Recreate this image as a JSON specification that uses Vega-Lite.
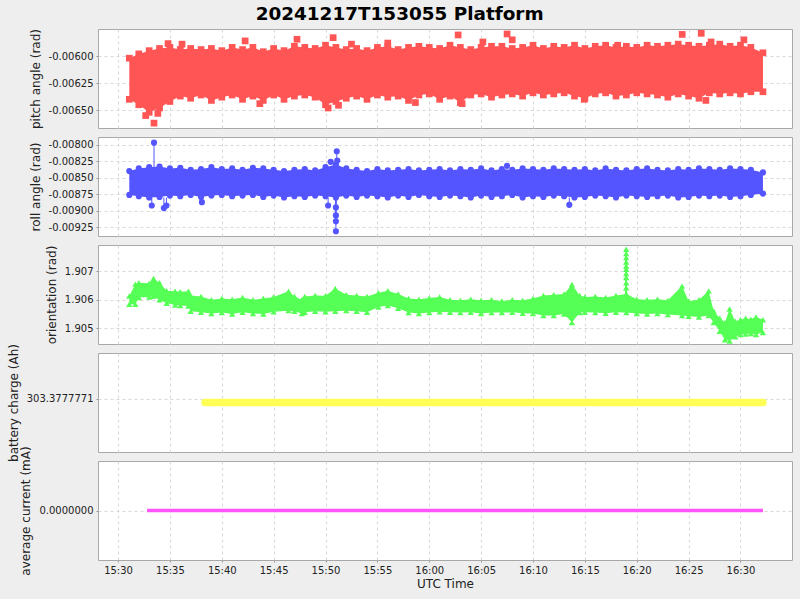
{
"$schema": "https://vega.github.io/schema/vega-lite/v6.json",
"background": "#eeeeee",
"padding": {"left": 6, "top": 4, "right": 8, "bottom": 9},
"bounds": "flush",
"spacing": 9,
"title": {"text": "20241217T153055 Platform", "fontSize": 18.4, "font": "DejaVu Sans", "fontWeight": "bold", "anchor": "middle", "color": "#000000", "offset": 5},
"config": {
  "font": "DejaVu Sans",
  "view": {"stroke": "#a8a8a8", "strokeWidth": 1, "fill": "white"},
  "axis": {"labelFont": "DejaVu Sans", "labelFontSize": 10, "labelColor": "#222222", "titleFont": "DejaVu Sans", "titleFontSize": 12, "titleFontWeight": "normal", "titleColor": "#222222", "gridColor": "#d8d8d8", "gridDash": [3, 3], "domain": false, "tickColor": "#999999", "tickSize": 2, "labelPadding": 3, "titlePadding": 6, "labelOverlap": false, "labelFlush": false}
},
"datasets": {
"pitch": [
{"t":"2024-12-17T15:31:05Z","hi":-0.00602,"lo":-0.0064},
{"t":"2024-12-17T15:32:00Z","hi":-0.00598,"lo":-0.00645},
{"t":"2024-12-17T15:33:00Z","hi":-0.00595,"lo":-0.00652},
{"t":"2024-12-17T15:34:00Z","hi":-0.00593,"lo":-0.00648},
{"t":"2024-12-17T15:35:00Z","hi":-0.00592,"lo":-0.00642},
{"t":"2024-12-17T15:36:00Z","hi":-0.00594,"lo":-0.00637},
{"t":"2024-12-17T15:37:00Z","hi":-0.00593,"lo":-0.00639},
{"t":"2024-12-17T15:38:00Z","hi":-0.00594,"lo":-0.00636},
{"t":"2024-12-17T15:39:00Z","hi":-0.00593,"lo":-0.00641},
{"t":"2024-12-17T15:40:00Z","hi":-0.00595,"lo":-0.00638},
{"t":"2024-12-17T15:41:00Z","hi":-0.00592,"lo":-0.00636},
{"t":"2024-12-17T15:42:00Z","hi":-0.00594,"lo":-0.0064},
{"t":"2024-12-17T15:43:00Z","hi":-0.00592,"lo":-0.00637},
{"t":"2024-12-17T15:44:00Z","hi":-0.00596,"lo":-0.00641},
{"t":"2024-12-17T15:45:00Z","hi":-0.00593,"lo":-0.00636},
{"t":"2024-12-17T15:46:00Z","hi":-0.00595,"lo":-0.0064},
{"t":"2024-12-17T15:47:00Z","hi":-0.00591,"lo":-0.00637},
{"t":"2024-12-17T15:48:00Z","hi":-0.00592,"lo":-0.00636},
{"t":"2024-12-17T15:49:00Z","hi":-0.00593,"lo":-0.00638},
{"t":"2024-12-17T15:50:00Z","hi":-0.0059,"lo":-0.00645},
{"t":"2024-12-17T15:51:00Z","hi":-0.00592,"lo":-0.00642},
{"t":"2024-12-17T15:52:00Z","hi":-0.00594,"lo":-0.00639},
{"t":"2024-12-17T15:53:00Z","hi":-0.00593,"lo":-0.00637},
{"t":"2024-12-17T15:54:00Z","hi":-0.00595,"lo":-0.0064},
{"t":"2024-12-17T15:55:00Z","hi":-0.00592,"lo":-0.00636},
{"t":"2024-12-17T15:56:00Z","hi":-0.00591,"lo":-0.00638},
{"t":"2024-12-17T15:57:00Z","hi":-0.00594,"lo":-0.00637},
{"t":"2024-12-17T15:58:00Z","hi":-0.00592,"lo":-0.00641},
{"t":"2024-12-17T15:59:00Z","hi":-0.00591,"lo":-0.00636},
{"t":"2024-12-17T16:00:00Z","hi":-0.00592,"lo":-0.00635},
{"t":"2024-12-17T16:01:00Z","hi":-0.00593,"lo":-0.0064},
{"t":"2024-12-17T16:02:00Z","hi":-0.0059,"lo":-0.00637},
{"t":"2024-12-17T16:03:00Z","hi":-0.00592,"lo":-0.00643},
{"t":"2024-12-17T16:04:00Z","hi":-0.00594,"lo":-0.00636},
{"t":"2024-12-17T16:05:00Z","hi":-0.00592,"lo":-0.00635},
{"t":"2024-12-17T16:06:00Z","hi":-0.00591,"lo":-0.00638},
{"t":"2024-12-17T16:07:00Z","hi":-0.00591,"lo":-0.00636},
{"t":"2024-12-17T16:08:00Z","hi":-0.00593,"lo":-0.00635},
{"t":"2024-12-17T16:09:00Z","hi":-0.00592,"lo":-0.00637},
{"t":"2024-12-17T16:10:00Z","hi":-0.0059,"lo":-0.00634},
{"t":"2024-12-17T16:11:00Z","hi":-0.00593,"lo":-0.00636},
{"t":"2024-12-17T16:12:00Z","hi":-0.00591,"lo":-0.00635},
{"t":"2024-12-17T16:13:00Z","hi":-0.00592,"lo":-0.00634},
{"t":"2024-12-17T16:14:00Z","hi":-0.0059,"lo":-0.00637},
{"t":"2024-12-17T16:15:00Z","hi":-0.00593,"lo":-0.00639},
{"t":"2024-12-17T16:16:00Z","hi":-0.00591,"lo":-0.00635},
{"t":"2024-12-17T16:17:00Z","hi":-0.0059,"lo":-0.00634},
{"t":"2024-12-17T16:18:00Z","hi":-0.00592,"lo":-0.00637},
{"t":"2024-12-17T16:19:00Z","hi":-0.00591,"lo":-0.00636},
{"t":"2024-12-17T16:20:00Z","hi":-0.00592,"lo":-0.00634},
{"t":"2024-12-17T16:21:00Z","hi":-0.0059,"lo":-0.00635},
{"t":"2024-12-17T16:22:00Z","hi":-0.00591,"lo":-0.00636},
{"t":"2024-12-17T16:23:00Z","hi":-0.0059,"lo":-0.00638},
{"t":"2024-12-17T16:24:00Z","hi":-0.00589,"lo":-0.00635},
{"t":"2024-12-17T16:25:00Z","hi":-0.0059,"lo":-0.00637},
{"t":"2024-12-17T16:26:00Z","hi":-0.00591,"lo":-0.00639},
{"t":"2024-12-17T16:27:00Z","hi":-0.0059,"lo":-0.00634},
{"t":"2024-12-17T16:28:00Z","hi":-0.00589,"lo":-0.00635},
{"t":"2024-12-17T16:29:00Z","hi":-0.00591,"lo":-0.00634},
{"t":"2024-12-17T16:30:00Z","hi":-0.0059,"lo":-0.00635},
{"t":"2024-12-17T16:31:00Z","hi":-0.00592,"lo":-0.00633},
{"t":"2024-12-17T16:32:10Z","hi":-0.00597,"lo":-0.00633}
],
"pitch_out": [
{"t":"2024-12-17T15:32:40Z","v":-0.00655},
{"t":"2024-12-17T15:33:28Z","v":-0.00662},
{"t":"2024-12-17T15:33:50Z","v":-0.00653},
{"t":"2024-12-17T15:34:49Z","v":-0.005885},
{"t":"2024-12-17T15:36:10Z","v":-0.00589},
{"t":"2024-12-17T15:42:15Z","v":-0.00586},
{"t":"2024-12-17T15:43:40Z","v":-0.00644},
{"t":"2024-12-17T15:47:15Z","v":-0.005845},
{"t":"2024-12-17T15:50:15Z","v":-0.00648},
{"t":"2024-12-17T15:50:44Z","v":-0.00583},
{"t":"2024-12-17T15:51:15Z","v":-0.006455},
{"t":"2024-12-17T15:52:30Z","v":-0.00589},
{"t":"2024-12-17T15:56:00Z","v":-0.00588},
{"t":"2024-12-17T15:58:40Z","v":-0.00643},
{"t":"2024-12-17T16:02:47Z","v":-0.005805},
{"t":"2024-12-17T16:03:10Z","v":-0.00644},
{"t":"2024-12-17T16:05:10Z","v":-0.00587},
{"t":"2024-12-17T16:07:30Z","v":-0.005796},
{"t":"2024-12-17T16:08:00Z","v":-0.00585},
{"t":"2024-12-17T16:14:56Z","v":-0.0064},
{"t":"2024-12-17T16:18:10Z","v":-0.0059},
{"t":"2024-12-17T16:24:23Z","v":-0.0058},
{"t":"2024-12-17T16:26:13Z","v":-0.00579},
{"t":"2024-12-17T16:26:40Z","v":-0.00641},
{"t":"2024-12-17T16:27:10Z","v":-0.00587},
{"t":"2024-12-17T16:30:20Z","v":-0.00585}
],
"roll": [
{"t":"2024-12-17T15:31:05Z","hi":-0.0084,"lo":-0.00876},
{"t":"2024-12-17T15:32:00Z","hi":-0.00836,"lo":-0.00878},
{"t":"2024-12-17T15:33:00Z","hi":-0.00834,"lo":-0.0088},
{"t":"2024-12-17T15:34:00Z","hi":-0.00833,"lo":-0.00879},
{"t":"2024-12-17T15:35:00Z","hi":-0.00836,"lo":-0.00877},
{"t":"2024-12-17T15:36:00Z","hi":-0.00835,"lo":-0.00878},
{"t":"2024-12-17T15:37:00Z","hi":-0.00838,"lo":-0.00876},
{"t":"2024-12-17T15:38:00Z","hi":-0.00837,"lo":-0.00879},
{"t":"2024-12-17T15:39:00Z","hi":-0.00834,"lo":-0.00877},
{"t":"2024-12-17T15:40:00Z","hi":-0.00837,"lo":-0.00876},
{"t":"2024-12-17T15:41:00Z","hi":-0.00836,"lo":-0.00878},
{"t":"2024-12-17T15:42:00Z","hi":-0.00838,"lo":-0.00877},
{"t":"2024-12-17T15:43:00Z","hi":-0.00835,"lo":-0.00876},
{"t":"2024-12-17T15:44:00Z","hi":-0.00836,"lo":-0.00879},
{"t":"2024-12-17T15:45:00Z","hi":-0.00838,"lo":-0.00877},
{"t":"2024-12-17T15:46:00Z","hi":-0.0084,"lo":-0.0088},
{"t":"2024-12-17T15:47:00Z","hi":-0.00838,"lo":-0.00878},
{"t":"2024-12-17T15:48:00Z","hi":-0.00837,"lo":-0.00879},
{"t":"2024-12-17T15:49:00Z","hi":-0.00839,"lo":-0.00877},
{"t":"2024-12-17T15:50:00Z","hi":-0.00834,"lo":-0.00878},
{"t":"2024-12-17T15:51:00Z","hi":-0.0083,"lo":-0.0088},
{"t":"2024-12-17T15:52:00Z","hi":-0.00836,"lo":-0.00877},
{"t":"2024-12-17T15:53:00Z","hi":-0.00838,"lo":-0.00879},
{"t":"2024-12-17T15:54:00Z","hi":-0.0084,"lo":-0.00877},
{"t":"2024-12-17T15:55:00Z","hi":-0.00837,"lo":-0.00878},
{"t":"2024-12-17T15:56:00Z","hi":-0.00839,"lo":-0.0088},
{"t":"2024-12-17T15:57:00Z","hi":-0.00838,"lo":-0.00877},
{"t":"2024-12-17T15:58:00Z","hi":-0.00837,"lo":-0.00879},
{"t":"2024-12-17T15:59:00Z","hi":-0.00839,"lo":-0.00876},
{"t":"2024-12-17T16:00:00Z","hi":-0.00838,"lo":-0.00878},
{"t":"2024-12-17T16:01:00Z","hi":-0.00837,"lo":-0.00879},
{"t":"2024-12-17T16:02:00Z","hi":-0.00839,"lo":-0.00877},
{"t":"2024-12-17T16:03:00Z","hi":-0.00837,"lo":-0.00878},
{"t":"2024-12-17T16:04:00Z","hi":-0.00838,"lo":-0.0088},
{"t":"2024-12-17T16:05:00Z","hi":-0.00836,"lo":-0.00877},
{"t":"2024-12-17T16:06:00Z","hi":-0.00839,"lo":-0.00879},
{"t":"2024-12-17T16:07:00Z","hi":-0.00837,"lo":-0.00878},
{"t":"2024-12-17T16:08:00Z","hi":-0.00838,"lo":-0.00876},
{"t":"2024-12-17T16:09:00Z","hi":-0.00836,"lo":-0.0088},
{"t":"2024-12-17T16:10:00Z","hi":-0.00837,"lo":-0.00878},
{"t":"2024-12-17T16:11:00Z","hi":-0.00838,"lo":-0.00879},
{"t":"2024-12-17T16:12:00Z","hi":-0.00836,"lo":-0.00877},
{"t":"2024-12-17T16:13:00Z","hi":-0.00837,"lo":-0.00878},
{"t":"2024-12-17T16:14:00Z","hi":-0.00838,"lo":-0.0088},
{"t":"2024-12-17T16:15:00Z","hi":-0.00837,"lo":-0.00879},
{"t":"2024-12-17T16:16:00Z","hi":-0.00839,"lo":-0.00877},
{"t":"2024-12-17T16:17:00Z","hi":-0.00836,"lo":-0.00878},
{"t":"2024-12-17T16:18:00Z","hi":-0.00838,"lo":-0.0088},
{"t":"2024-12-17T16:19:00Z","hi":-0.00839,"lo":-0.00877},
{"t":"2024-12-17T16:20:00Z","hi":-0.00837,"lo":-0.00878},
{"t":"2024-12-17T16:21:00Z","hi":-0.00836,"lo":-0.00879},
{"t":"2024-12-17T16:22:00Z","hi":-0.00838,"lo":-0.00878},
{"t":"2024-12-17T16:23:00Z","hi":-0.00839,"lo":-0.00877},
{"t":"2024-12-17T16:24:00Z","hi":-0.00837,"lo":-0.0088},
{"t":"2024-12-17T16:25:00Z","hi":-0.00838,"lo":-0.00879},
{"t":"2024-12-17T16:26:00Z","hi":-0.00836,"lo":-0.00877},
{"t":"2024-12-17T16:27:00Z","hi":-0.00837,"lo":-0.00878},
{"t":"2024-12-17T16:28:00Z","hi":-0.00838,"lo":-0.00877},
{"t":"2024-12-17T16:29:00Z","hi":-0.00836,"lo":-0.00879},
{"t":"2024-12-17T16:30:00Z","hi":-0.00837,"lo":-0.00878},
{"t":"2024-12-17T16:31:00Z","hi":-0.00838,"lo":-0.00876},
{"t":"2024-12-17T16:32:10Z","hi":-0.00842,"lo":-0.00874}
],
"roll_out": [
{"t":"2024-12-17T15:33:28Z","v":-0.00797,"b":-0.00834},
{"t":"2024-12-17T15:33:15Z","v":-0.00892,"b":-0.0088},
{"t":"2024-12-17T15:34:25Z","v":-0.00896,"b":-0.0088},
{"t":"2024-12-17T15:34:40Z","v":-0.00892,"b":-0.0088},
{"t":"2024-12-17T15:38:05Z","v":-0.00887,"b":-0.0088},
{"t":"2024-12-17T15:50:15Z","v":-0.00892,"b":-0.0088},
{"t":"2024-12-17T15:50:30Z","v":-0.00826,"b":-0.0083},
{"t":"2024-12-17T15:51:05Z","v":-0.0081,"b":-0.0083},
{"t":"2024-12-17T15:51:08Z","v":-0.00824,"b":-0.0083},
{"t":"2024-12-17T15:51:00Z","v":-0.00895,"b":-0.0088},
{"t":"2024-12-17T15:51:00Z","v":-0.00907,"b":-0.0088},
{"t":"2024-12-17T15:51:00Z","v":-0.00916,"b":-0.0088},
{"t":"2024-12-17T15:51:00Z","v":-0.00931,"b":-0.0088},
{"t":"2024-12-17T16:07:30Z","v":-0.00832,"b":-0.00836},
{"t":"2024-12-17T16:13:30Z","v":-0.00891,"b":-0.0088}
],
"orient": [
{"t":"2024-12-17T15:31:05Z","hi":1.90613,"lo":1.90584},
{"t":"2024-12-17T15:31:40Z","hi":1.90655,"lo":1.90584},
{"t":"2024-12-17T15:32:00Z","hi":1.9066,"lo":1.90608},
{"t":"2024-12-17T15:33:00Z","hi":1.90658,"lo":1.9061},
{"t":"2024-12-17T15:33:25Z","hi":1.90675,"lo":1.90612},
{"t":"2024-12-17T15:34:00Z","hi":1.9066,"lo":1.906},
{"t":"2024-12-17T15:34:41Z","hi":1.90632,"lo":1.90588},
{"t":"2024-12-17T15:35:30Z","hi":1.9063,"lo":1.90582},
{"t":"2024-12-17T15:36:00Z","hi":1.90628,"lo":1.9058},
{"t":"2024-12-17T15:36:47Z","hi":1.9063,"lo":1.90578},
{"t":"2024-12-17T15:37:00Z","hi":1.90615,"lo":1.9056},
{"t":"2024-12-17T15:38:00Z","hi":1.90612,"lo":1.90556},
{"t":"2024-12-17T15:39:00Z","hi":1.906,"lo":1.90552},
{"t":"2024-12-17T15:40:00Z","hi":1.90605,"lo":1.90555},
{"t":"2024-12-17T15:41:00Z","hi":1.90602,"lo":1.9055},
{"t":"2024-12-17T15:42:00Z","hi":1.90608,"lo":1.90556},
{"t":"2024-12-17T15:43:00Z","hi":1.906,"lo":1.90552},
{"t":"2024-12-17T15:44:00Z","hi":1.90605,"lo":1.9055},
{"t":"2024-12-17T15:45:00Z","hi":1.9061,"lo":1.90558},
{"t":"2024-12-17T15:46:26Z","hi":1.9063,"lo":1.90562},
{"t":"2024-12-17T15:47:00Z","hi":1.90612,"lo":1.9056},
{"t":"2024-12-17T15:47:43Z","hi":1.906,"lo":1.90552},
{"t":"2024-12-17T15:48:00Z","hi":1.90612,"lo":1.90556},
{"t":"2024-12-17T15:49:00Z","hi":1.90615,"lo":1.9056},
{"t":"2024-12-17T15:50:00Z","hi":1.90614,"lo":1.90558},
{"t":"2024-12-17T15:50:56Z","hi":1.9064,"lo":1.9056},
{"t":"2024-12-17T15:52:00Z","hi":1.90618,"lo":1.90562},
{"t":"2024-12-17T15:53:00Z","hi":1.90615,"lo":1.9056},
{"t":"2024-12-17T15:54:00Z","hi":1.90612,"lo":1.90556},
{"t":"2024-12-17T15:55:06Z","hi":1.90625,"lo":1.90575},
{"t":"2024-12-17T15:56:00Z","hi":1.90632,"lo":1.9058},
{"t":"2024-12-17T15:57:00Z","hi":1.9062,"lo":1.9057},
{"t":"2024-12-17T15:58:00Z","hi":1.90605,"lo":1.90555},
{"t":"2024-12-17T15:59:00Z","hi":1.90602,"lo":1.90552},
{"t":"2024-12-17T16:00:00Z","hi":1.90606,"lo":1.90555},
{"t":"2024-12-17T16:01:00Z","hi":1.9061,"lo":1.90558},
{"t":"2024-12-17T16:02:00Z","hi":1.906,"lo":1.90556},
{"t":"2024-12-17T16:03:00Z","hi":1.90598,"lo":1.90555},
{"t":"2024-12-17T16:04:00Z","hi":1.90602,"lo":1.90556},
{"t":"2024-12-17T16:05:00Z","hi":1.90598,"lo":1.90552},
{"t":"2024-12-17T16:06:00Z","hi":1.906,"lo":1.90555},
{"t":"2024-12-17T16:07:00Z","hi":1.90596,"lo":1.90555},
{"t":"2024-12-17T16:08:00Z","hi":1.906,"lo":1.90556},
{"t":"2024-12-17T16:09:00Z","hi":1.90598,"lo":1.90553},
{"t":"2024-12-17T16:10:00Z","hi":1.90605,"lo":1.90552},
{"t":"2024-12-17T16:11:00Z","hi":1.90615,"lo":1.90545},
{"t":"2024-12-17T16:12:00Z","hi":1.90618,"lo":1.90545},
{"t":"2024-12-17T16:13:00Z","hi":1.9062,"lo":1.9055},
{"t":"2024-12-17T16:13:45Z","hi":1.90654,"lo":1.9052},
{"t":"2024-12-17T16:14:30Z","hi":1.90615,"lo":1.90555},
{"t":"2024-12-17T16:15:00Z","hi":1.9061,"lo":1.90556},
{"t":"2024-12-17T16:16:00Z","hi":1.90612,"lo":1.90555},
{"t":"2024-12-17T16:17:00Z","hi":1.90608,"lo":1.90553},
{"t":"2024-12-17T16:18:00Z","hi":1.90615,"lo":1.90556},
{"t":"2024-12-17T16:19:00Z","hi":1.9062,"lo":1.90555},
{"t":"2024-12-17T16:20:00Z","hi":1.90602,"lo":1.90552},
{"t":"2024-12-17T16:21:00Z","hi":1.906,"lo":1.9055},
{"t":"2024-12-17T16:22:00Z","hi":1.90602,"lo":1.90552},
{"t":"2024-12-17T16:23:00Z","hi":1.90598,"lo":1.90548},
{"t":"2024-12-17T16:24:22Z","hi":1.90648,"lo":1.90545},
{"t":"2024-12-17T16:25:00Z","hi":1.90596,"lo":1.90542},
{"t":"2024-12-17T16:26:00Z","hi":1.906,"lo":1.9054},
{"t":"2024-12-17T16:26:56Z","hi":1.90631,"lo":1.90545},
{"t":"2024-12-17T16:27:25Z","hi":1.90561,"lo":1.9052},
{"t":"2024-12-17T16:28:00Z","hi":1.90535,"lo":1.9049},
{"t":"2024-12-17T16:28:30Z","hi":1.9052,"lo":1.9046},
{"t":"2024-12-17T16:28:57Z","hi":1.90568,"lo":1.90455},
{"t":"2024-12-17T16:29:30Z","hi":1.90525,"lo":1.9047},
{"t":"2024-12-17T16:30:00Z","hi":1.9053,"lo":1.90478},
{"t":"2024-12-17T16:30:30Z","hi":1.90535,"lo":1.9048},
{"t":"2024-12-17T16:31:00Z","hi":1.90532,"lo":1.90482},
{"t":"2024-12-17T16:31:30Z","hi":1.9054,"lo":1.90478},
{"t":"2024-12-17T16:32:10Z","hi":1.9053,"lo":1.90485}
],
"orient_out": [
{"t":"2024-12-17T16:18:59Z","v":1.90777,"b":1.9062},
{"t":"2024-12-17T16:18:59Z","v":1.90762,"b":1.9062},
{"t":"2024-12-17T16:18:59Z","v":1.90748,"b":1.9062},
{"t":"2024-12-17T16:18:59Z","v":1.90733,"b":1.9062},
{"t":"2024-12-17T16:18:59Z","v":1.90719,"b":1.9062},
{"t":"2024-12-17T16:18:59Z","v":1.90707,"b":1.9062},
{"t":"2024-12-17T16:18:59Z","v":1.90692,"b":1.9062},
{"t":"2024-12-17T16:18:59Z","v":1.90678,"b":1.9062},
{"t":"2024-12-17T16:18:59Z","v":1.9066,"b":1.9062},
{"t":"2024-12-17T16:18:59Z","v":1.90642,"b":1.9062}
],
"battery": [
{"t":"2024-12-17T15:38:23Z","v":303.377777024},
{"t":"2024-12-17T15:45:00Z","v":303.377777024},
{"t":"2024-12-17T15:55:00Z","v":303.377777024},
{"t":"2024-12-17T16:05:00Z","v":303.377777024},
{"t":"2024-12-17T16:15:00Z","v":303.377777024},
{"t":"2024-12-17T16:25:00Z","v":303.377777024},
{"t":"2024-12-17T16:32:10Z","v":303.377777024}
],
"current": [
{"t":"2024-12-17T15:32:48Z","v":0},
{"t":"2024-12-17T15:45:00Z","v":0},
{"t":"2024-12-17T16:00:00Z","v":0},
{"t":"2024-12-17T16:15:00Z","v":0},
{"t":"2024-12-17T16:32:10Z","v":0}
]
},
"vconcat": [
{
"width": 694, "height": 99,
"layer": [
{"data": {"name": "pitch"}, "mark": {"type": "area", "color": "#ff5555", "opacity": 1, "clip": true},
 "encoding": {
  "x": {"field": "t", "type": "temporal", "scale": {"type": "utc", "domain": [{"year": 2024, "month": 12, "date": 17, "hours": 15, "minutes": 28, "seconds": 4, "utc": true}, {"year": 2024, "month": 12, "date": 17, "hours": 16, "minutes": 34, "seconds": 58, "utc": true}]}, "axis": {"labels": false, "ticks": false, "title": null}},
  "y": {"field": "hi", "type": "quantitative", "title": "pitch angle (rad)", "scale": {"domain": [-0.006665, -0.00575], "zero": false, "nice": false}, "axis": {"values": [-0.006, -0.00625, -0.0065], "tickCount": 10, "labelOverlap": false, "labelExpr": "replace(format(datum.value, '.5f'), '\u2212', '-')"}},
  "y2": {"field": "lo"}}},
{"data": {"name": "pitch"}, "mark": {"type": "point", "shape": "square", "filled": true, "size": 45, "color": "#ff5555", "opacity": 1, "clip": true},
 "encoding": {"x": {"field": "t", "type": "temporal"}, "y": {"field": "hi", "type": "quantitative", "title": "pitch angle (rad)"}}},
{"data": {"name": "pitch"}, "mark": {"type": "point", "shape": "square", "filled": true, "size": 45, "color": "#ff5555", "opacity": 1, "clip": true},
 "encoding": {"x": {"field": "t", "type": "temporal"}, "y": {"field": "lo", "type": "quantitative", "title": "pitch angle (rad)"}}},
{"data": {"name": "pitch_out"}, "mark": {"type": "point", "shape": "square", "filled": true, "size": 45, "color": "#ff5555", "opacity": 1, "clip": true},
 "encoding": {"x": {"field": "t", "type": "temporal"}, "y": {"field": "v", "type": "quantitative", "title": "pitch angle (rad)"}}}
]
},
{
"width": 694, "height": 99,
"layer": [
{"data": {"name": "roll"}, "mark": {"type": "area", "color": "#5555ff", "opacity": 1, "clip": true},
 "encoding": {
  "x": {"field": "t", "type": "temporal", "scale": {"type": "utc", "domain": [{"year": 2024, "month": 12, "date": 17, "hours": 15, "minutes": 28, "seconds": 4, "utc": true}, {"year": 2024, "month": 12, "date": 17, "hours": 16, "minutes": 34, "seconds": 58, "utc": true}]}, "axis": {"labels": false, "ticks": false, "title": null}},
  "y": {"field": "hi", "type": "quantitative", "title": "roll angle (rad)", "scale": {"domain": [-0.009382, -0.007884], "zero": false, "nice": false}, "axis": {"values": [-0.008, -0.00825, -0.0085, -0.00875, -0.009, -0.00925], "tickCount": 12, "labelOverlap": false, "labelExpr": "replace(format(datum.value, '.5f'), '\u2212', '-')"}},
  "y2": {"field": "lo"}}},
{"data": {"name": "roll_out"}, "mark": {"type": "rule", "color": "#5555ff", "strokeWidth": 1, "clip": true},
 "encoding": {"x": {"field": "t", "type": "temporal"}, "y": {"field": "v", "type": "quantitative", "title": "roll angle (rad)"}, "y2": {"field": "b"}}},
{"data": {"name": "roll"}, "mark": {"type": "point", "shape": "circle", "filled": true, "size": 38, "color": "#5555ff", "opacity": 1, "clip": true},
 "encoding": {"x": {"field": "t", "type": "temporal"}, "y": {"field": "hi", "type": "quantitative", "title": "roll angle (rad)"}}},
{"data": {"name": "roll"}, "mark": {"type": "point", "shape": "circle", "filled": true, "size": 38, "color": "#5555ff", "opacity": 1, "clip": true},
 "encoding": {"x": {"field": "t", "type": "temporal"}, "y": {"field": "lo", "type": "quantitative", "title": "roll angle (rad)"}}},
{"data": {"name": "roll_out"}, "mark": {"type": "point", "shape": "circle", "filled": true, "size": 38, "color": "#5555ff", "opacity": 1, "clip": true},
 "encoding": {"x": {"field": "t", "type": "temporal"}, "y": {"field": "v", "type": "quantitative", "title": "roll angle (rad)"}}}
]
},
{
"width": 694, "height": 99,
"layer": [
{"data": {"name": "orient"}, "mark": {"type": "area", "color": "#55ff55", "opacity": 1, "clip": true},
 "encoding": {
  "x": {"field": "t", "type": "temporal", "scale": {"type": "utc", "domain": [{"year": 2024, "month": 12, "date": 17, "hours": 15, "minutes": 28, "seconds": 4, "utc": true}, {"year": 2024, "month": 12, "date": 17, "hours": 16, "minutes": 34, "seconds": 58, "utc": true}]}, "axis": {"labels": false, "ticks": false, "title": null}},
  "y": {"field": "hi", "type": "quantitative", "title": "orientation (rad)", "scale": {"domain": [1.904449, 1.907923], "zero": false, "nice": false}, "axis": {"values": [1.905, 1.906, 1.907], "tickCount": 10, "format": ".3f"}},
  "y2": {"field": "lo"}}},
{"data": {"name": "orient_out"}, "mark": {"type": "rule", "color": "#55ff55", "strokeWidth": 1.5, "clip": true},
 "encoding": {"x": {"field": "t", "type": "temporal"}, "y": {"field": "v", "type": "quantitative", "title": "orientation (rad)"}, "y2": {"field": "b"}}},
{"data": {"name": "orient"}, "mark": {"type": "point", "shape": "triangle-up", "filled": true, "size": 40, "color": "#55ff55", "opacity": 1, "clip": true},
 "encoding": {"x": {"field": "t", "type": "temporal"}, "y": {"field": "hi", "type": "quantitative", "title": "orientation (rad)"}}},
{"data": {"name": "orient"}, "mark": {"type": "point", "shape": "triangle-up", "filled": true, "size": 40, "color": "#55ff55", "opacity": 1, "clip": true},
 "encoding": {"x": {"field": "t", "type": "temporal"}, "y": {"field": "lo", "type": "quantitative", "title": "orientation (rad)"}}},
{"data": {"name": "orient_out"}, "mark": {"type": "point", "shape": "triangle-up", "filled": true, "size": 40, "color": "#55ff55", "opacity": 1, "clip": true},
 "encoding": {"x": {"field": "t", "type": "temporal"}, "y": {"field": "v", "type": "quantitative", "title": "orientation (rad)"}}}
]
},
{
"width": 694, "height": 99,
"data": {"name": "battery"},
"mark": {"type": "line", "color": "#ffff55", "strokeWidth": 7.5, "strokeCap": "round", "clip": true},
"encoding": {
  "x": {"field": "t", "type": "temporal", "scale": {"type": "utc", "domain": [{"year": 2024, "month": 12, "date": 17, "hours": 15, "minutes": 28, "seconds": 4, "utc": true}, {"year": 2024, "month": 12, "date": 17, "hours": 16, "minutes": 34, "seconds": 58, "utc": true}]}, "axis": {"labels": false, "ticks": false, "title": null}},
  "y": {"field": "v", "type": "quantitative", "title": "battery charge (Ah)", "scale": {"domain": [303.377776024, 303.377778024], "zero": false, "nice": false}, "axis": {"values": [303.3777771], "format": ".7f"}}}
},
{
"width": 694, "height": 99,
"data": {"name": "current"},
"mark": {"type": "line", "color": "#ff55ff", "strokeWidth": 3.5, "strokeCap": "butt", "clip": true},
"encoding": {
  "x": {"field": "t", "type": "temporal", "scale": {"type": "utc", "domain": [{"year": 2024, "month": 12, "date": 17, "hours": 15, "minutes": 28, "seconds": 4, "utc": true}, {"year": 2024, "month": 12, "date": 17, "hours": 16, "minutes": 34, "seconds": 58, "utc": true}]}, "axis": {"format": "%H:%M", "title": "UTC Time", "labelPadding": 3, "titlePadding": 3}},
  "y": {"field": "v", "type": "quantitative", "title": "average current (mA)", "scale": {"domain": [-1, 1], "zero": false, "nice": false}, "axis": {"values": [0], "format": ".7f"}}}
}
]
}
